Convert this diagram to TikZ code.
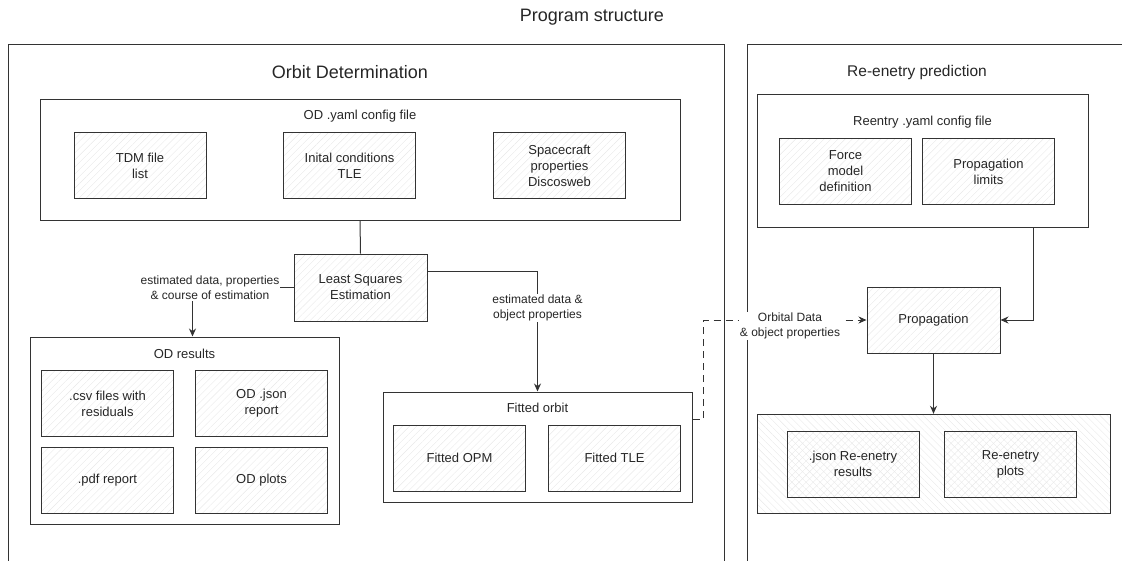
\documentclass[tikz,border=0pt]{standalone}
\usepackage{fontspec}
\setmainfont{Liberation Sans}
\usetikzlibrary{arrows.meta,patterns.meta}

\begin{document}
\begin{tikzpicture}[x=1pt, y=-1pt, >={Stealth[length=8pt,width=7pt]},
		groupbox/.style={draw=black!80, line width=1pt},
		itembox/.style={draw=black!80, line width=1pt, align=center, text=black!85, font=\fontsize{13}{16}\selectfont, minimum width=132pt, minimum height=66pt, pattern={Lines[angle=45,distance=5pt,line width=0.4pt]}, pattern color=black!9},
		grouplabel/.style={text=black!85, font=\fontsize{13}{16}\selectfont},
		edgelabel/.style={fill=white, align=center, inner sep=1pt, text=black!85, font=\fontsize{12}{15}\selectfont},
		link/.style={draw=black!80, line width=1pt}
	]

	\useasboundingbox (0,0) rectangle (1122,560);
	\clip (0,0) rectangle (1122,560);

	\node[text=black!85, font=\fontsize{18}{22}\selectfont] (title) at (592,17) {Program structure};

	% orbit determination side
	\node[groupbox, minimum width=716pt, minimum height=572pt] (odpart) at (366,330) {};
	\node[text=black!85, font=\fontsize{18}{22}\selectfont] (odtitle) at (350,72) {Orbit Determination};

	\node[groupbox, minimum width=640pt, minimum height=121pt] (odcfg) at (360,159.5) {};
	\node[grouplabel] (odcfglabel) at (360,116) {OD .yaml config file};
	\node[itembox] (tdm) at (140,165.5) {TDM file\\list};
	\node[itembox] (inicond) at (349.5,165.5) {Inital conditions\\TLE};
	\node[itembox] (scprops) at (559.5,165.5) {Spacecraft\\properties\\Discosweb};

	\node[itembox, minimum width=133pt, minimum height=67pt] (lse) at (360.5,287.5) {Least Squares\\Estimation};

	\node[groupbox, minimum width=309pt, minimum height=187pt] (odres) at (184.5,430.5) {};
	\node[grouplabel] (odreslabel) at (184.5,354) {OD results};
	\node[itembox] (csv) at (107.5,403.5) {.csv files with\\residuals};
	\node[itembox] (odjson) at (261.5,403.5) {OD .json\\report};
	\node[itembox] (pdf) at (107.5,480) {.pdf report};
	\node[itembox] (odplots) at (261.5,480) {OD plots};

	\node[groupbox, minimum width=309pt, minimum height=110pt] (fit) at (537.5,447) {};
	\node[grouplabel] (fitlabel) at (537.5,408) {Fitted orbit};
	\node[itembox] (opm) at (459.5,458) {Fitted OPM};
	\node[itembox] (tle) at (614.5,458) {Fitted TLE};

	% re-entry side
	\node[groupbox, minimum width=394pt, minimum height=572pt] (repart) at (944,330) {};
	\node[text=black!85, font=\fontsize{15.5}{19}\selectfont] (retitle) at (917,72) {Re-enetry prediction};

	\node[groupbox, minimum width=331pt, minimum height=133pt] (recfg) at (922.5,160.5) {};
	\node[grouplabel] (recfglabel) at (922.5,122) {Reentry .yaml config file};
	\node[itembox] (force) at (845.5,171.5) {Force\\model\\definition};
	\node[itembox] (proplim) at (988.5,171.5) {Propagation\\limits};

	\node[itembox, minimum width=133pt] (prop) at (933.5,320) {Propagation};

	\node[groupbox, minimum width=353pt, minimum height=99pt, pattern={Lines[angle=-45,distance=5pt,line width=0.4pt]}, pattern color=black!9] (reres) at (933.5,463.5) {};
	\node[itembox] (rejson) at (853,464) {.json Re-enetry\\results};
	\node[itembox] (replots) at (1010.5,464) {Re-enetry\\plots};

	% connectors
	\draw[link] (odcfg.south) -- (lse.north);
	\draw[link, ->] (lse.west) -| ([xshift=8pt]odres.north);
	\node[edgelabel] (lseleft) at (210,288) {estimated data, properties\\\& course of estimation};
	\draw[link, ->] ([yshift=16.5pt]lse.east) -| (fit.north);
	\node[edgelabel] (lseright) at (537.5,308) {estimated data \&\\object properties};
	\draw[link, ->, dash pattern=on 7pt off 5pt] ([yshift=28pt]fit.east) -- ++(11,0) |- (prop.west);
	\node[edgelabel] (orbdata) at (790,326) {Orbital Data\\\& object properties};
	\draw[link, ->] ([xshift=110.5pt]recfg.south) |- (prop.east);
	\draw[link, ->] (prop.south) -- (reres.north);
\end{tikzpicture}
\end{document}
